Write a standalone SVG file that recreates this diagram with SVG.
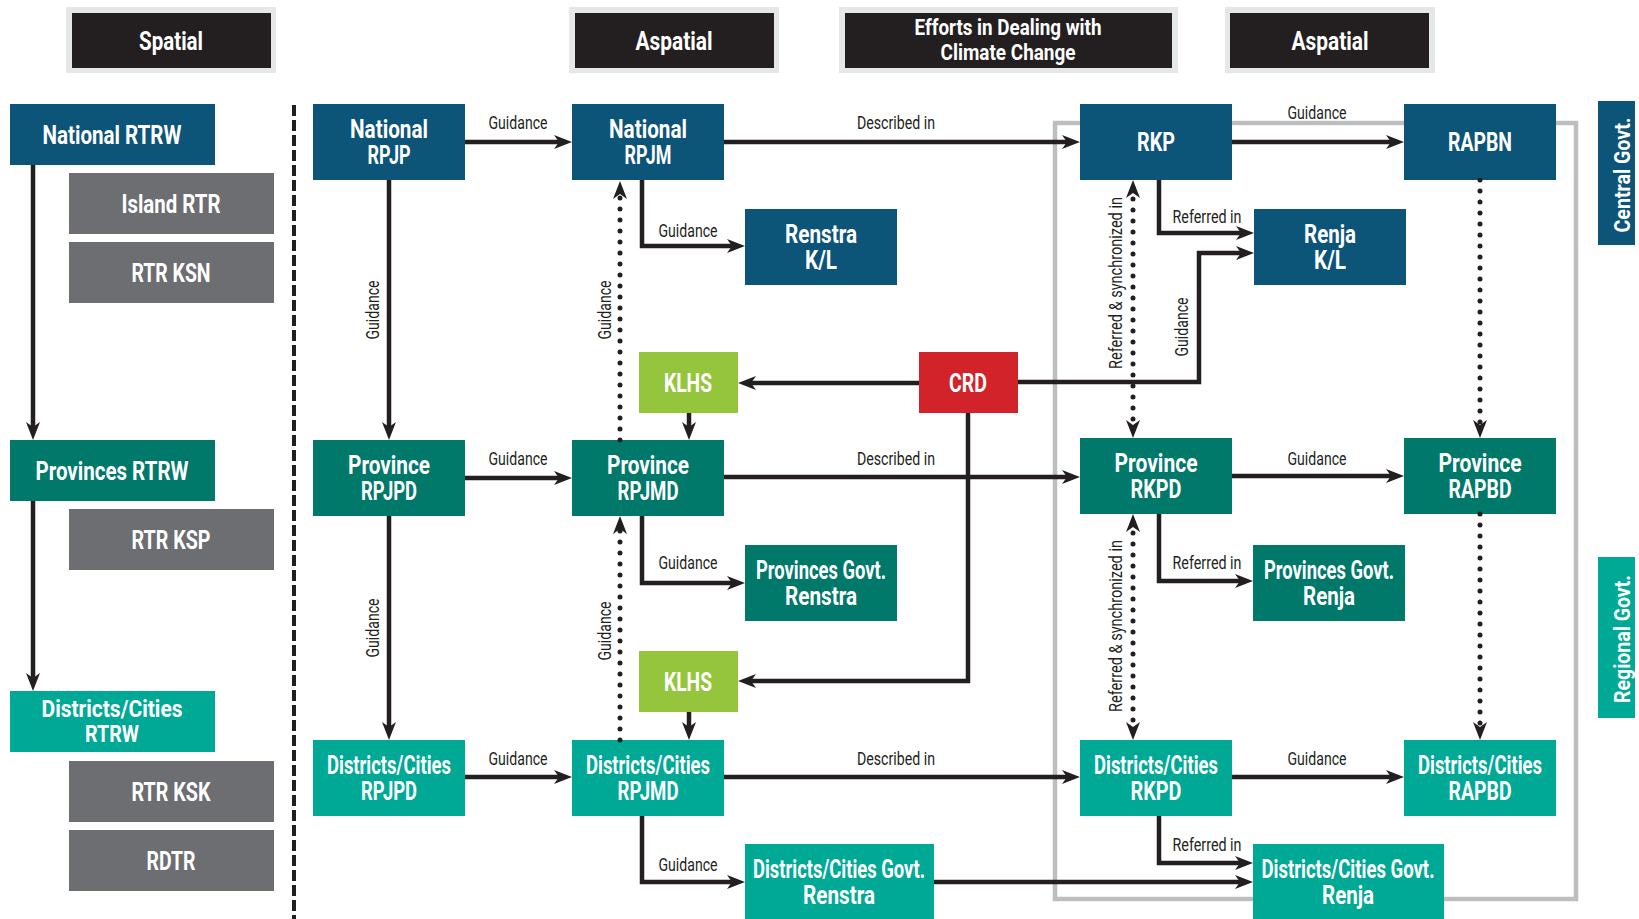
<svg xmlns="http://www.w3.org/2000/svg" width="1639" height="919" viewBox="0 0 1639 919">
<style>
.n{font-family:Roboto,"Liberation Sans",sans-serif;font-weight:bold;font-size:25px;fill:#fff;text-anchor:middle}
.n2{font-size:24px}
.h{font-family:Roboto,"Liberation Sans",sans-serif;font-weight:bold;font-size:25px;fill:#fff;text-anchor:middle}
.hs{font-size:22px}
.t{font-family:Roboto,"Liberation Sans",sans-serif;font-weight:bold;font-size:22px;fill:#fff;text-anchor:middle}
.l{font-family:Roboto,"Liberation Sans",sans-serif;font-size:18px;fill:#231f20;text-anchor:middle}
.nat{fill:#0d5479}.prv{fill:#00786a}.dis{fill:#00a995}.gry{fill:#6d6e71}.klh{fill:#95c53d}.crd{fill:#d2232a}
.hb{fill:#e6e7e8}.hk{fill:#231f20}
.c{fill:none;stroke:#231f20;stroke-width:4.5;marker-end:url(#ah)}
.d{fill:none;stroke:#231f20;stroke-width:5;stroke-linecap:round;stroke-dasharray:0 11;marker-end:url(#ah)}
.d2{marker-start:url(#ah)}
</style>
<defs>
<marker id="ah" viewBox="0 0 18 14" refX="10" refY="7" markerWidth="18" markerHeight="14" orient="auto-start-reverse" markerUnits="userSpaceOnUse"><path d="M0,0 L18,7 L0,14 L5,7 z" fill="#231f20"/></marker>
</defs>
<rect width="1639" height="919" fill="#fff"/>
<rect x="1055" y="123" width="521" height="776" fill="none" stroke="#bcbec0" stroke-width="4.5"/>
<line x1="294" y1="105" x2="294" y2="919" stroke="#231f20" stroke-width="4" stroke-dasharray="11 4"/>
<g id="hdr-spatial"><rect class="hb" x="66" y="7" width="210" height="66"/><rect class="hk" x="72" y="13" width="199" height="55"/><text class="h" x="171" y="50" textLength="64" lengthAdjust="spacingAndGlyphs">Spatial</text></g>
<g id="hdr-aspatial1"><rect class="hb" x="569" y="7" width="210" height="66"/><rect class="hk" x="575" y="13" width="199" height="55"/><text class="h" x="674" y="50" textLength="77" lengthAdjust="spacingAndGlyphs">Aspatial</text></g>
<g id="hdr-efforts"><rect class="hb" x="839" y="7" width="339" height="66"/><rect class="hk" x="845" y="13" width="327" height="55"/><text class="h hs" x="1008" y="35" textLength="187" lengthAdjust="spacingAndGlyphs">Efforts in Dealing with</text><text class="h hs" x="1008" y="60" textLength="135" lengthAdjust="spacingAndGlyphs">Climate Change</text></g>
<g id="hdr-aspatial2"><rect class="hb" x="1225" y="7" width="210" height="66"/><rect class="hk" x="1230" y="13" width="199" height="55"/><text class="h" x="1330" y="50" textLength="77" lengthAdjust="spacingAndGlyphs">Aspatial</text></g>
<g id="tab-central"><rect class="nat" x="1598" y="101" width="37" height="144"/><text class="t" transform="translate(1630,175) rotate(-90)" textLength="115" lengthAdjust="spacingAndGlyphs">Central Govt.</text></g>
<g id="tab-regional"><rect class="dis" x="1598" y="557" width="37" height="161"/><text class="t" transform="translate(1630,639) rotate(-90)" textLength="128" lengthAdjust="spacingAndGlyphs">Regional Govt.</text></g>
<g id="national-rtrw"><rect class="nat" x="10" y="104" width="205" height="61"/><text class="n" x="112" y="144" textLength="139" lengthAdjust="spacingAndGlyphs">National RTRW</text></g>
<g id="island-rtr"><rect class="gry" x="69" y="173" width="205" height="61"/><text class="n" x="171" y="213" textLength="99" lengthAdjust="spacingAndGlyphs">Island RTR</text></g>
<g id="rtr-ksn"><rect class="gry" x="69" y="242" width="205" height="61"/><text class="n" x="171" y="282" textLength="79" lengthAdjust="spacingAndGlyphs">RTR KSN</text></g>
<g id="provinces-rtrw"><rect class="prv" x="10" y="440" width="205" height="61"/><text class="n" x="112" y="480" textLength="153" lengthAdjust="spacingAndGlyphs">Provinces RTRW</text></g>
<g id="rtr-ksp"><rect class="gry" x="69" y="509" width="205" height="61"/><text class="n" x="171" y="549" textLength="79" lengthAdjust="spacingAndGlyphs">RTR KSP</text></g>
<g id="dc-rtrw"><rect class="dis" x="10" y="691" width="205" height="61"/><text class="n n2" x="112" y="717" textLength="141" lengthAdjust="spacingAndGlyphs">Districts/Cities</text><text class="n n2" x="112" y="742" textLength="54" lengthAdjust="spacingAndGlyphs">RTRW</text></g>
<g id="rtr-ksk"><rect class="gry" x="69" y="761" width="205" height="61"/><text class="n" x="171" y="801" textLength="79" lengthAdjust="spacingAndGlyphs">RTR KSK</text></g>
<g id="rdtr"><rect class="gry" x="69" y="830" width="205" height="61"/><text class="n" x="171" y="870" textLength="49" lengthAdjust="spacingAndGlyphs">RDTR</text></g>
<g id="national-rpjp"><rect class="nat" x="313" y="104" width="152" height="76"/><text class="n" x="389" y="138" textLength="78" lengthAdjust="spacingAndGlyphs">National</text><text class="n" x="389" y="164" textLength="43" lengthAdjust="spacingAndGlyphs">RPJP</text></g>
<g id="province-rpjpd"><rect class="prv" x="313" y="440" width="152" height="76"/><text class="n" x="389" y="474" textLength="82" lengthAdjust="spacingAndGlyphs">Province</text><text class="n" x="389" y="500" textLength="56" lengthAdjust="spacingAndGlyphs">RPJPD</text></g>
<g id="dc-rpjpd"><rect class="dis" x="313" y="740" width="152" height="76"/><text class="n" x="389" y="774" textLength="124" lengthAdjust="spacingAndGlyphs">Districts/Cities</text><text class="n" x="389" y="800" textLength="56" lengthAdjust="spacingAndGlyphs">RPJPD</text></g>
<g id="national-rpjm"><rect class="nat" x="572" y="104" width="152" height="76"/><text class="n" x="648" y="138" textLength="78" lengthAdjust="spacingAndGlyphs">National</text><text class="n" x="648" y="164" textLength="47" lengthAdjust="spacingAndGlyphs">RPJM</text></g>
<g id="province-rpjmd"><rect class="prv" x="572" y="440" width="152" height="76"/><text class="n" x="648" y="474" textLength="82" lengthAdjust="spacingAndGlyphs">Province</text><text class="n" x="648" y="500" textLength="61" lengthAdjust="spacingAndGlyphs">RPJMD</text></g>
<g id="dc-rpjmd"><rect class="dis" x="572" y="740" width="152" height="76"/><text class="n" x="648" y="774" textLength="124" lengthAdjust="spacingAndGlyphs">Districts/Cities</text><text class="n" x="648" y="800" textLength="61" lengthAdjust="spacingAndGlyphs">RPJMD</text></g>
<g id="klhs-1"><rect class="klh" x="639" y="352" width="99" height="61"/><text class="n" x="688" y="392" textLength="48" lengthAdjust="spacingAndGlyphs">KLHS</text></g>
<g id="klhs-2"><rect class="klh" x="639" y="651" width="99" height="61"/><text class="n" x="688" y="691" textLength="48" lengthAdjust="spacingAndGlyphs">KLHS</text></g>
<g id="renstra-kl"><rect class="nat" x="745" y="209" width="152" height="76"/><text class="n" x="821" y="243" textLength="72" lengthAdjust="spacingAndGlyphs">Renstra</text><text class="n" x="821" y="269" textLength="32" lengthAdjust="spacingAndGlyphs">K/L</text></g>
<g id="prov-renstra"><rect class="prv" x="745" y="545" width="152" height="76"/><text class="n" x="821" y="579" textLength="130" lengthAdjust="spacingAndGlyphs">Provinces Govt.</text><text class="n" x="821" y="605" textLength="72" lengthAdjust="spacingAndGlyphs">Renstra</text></g>
<g id="dc-renstra"><rect class="dis" x="745" y="844" width="189" height="76"/><text class="n" x="839" y="878" textLength="172" lengthAdjust="spacingAndGlyphs">Districts/Cities Govt.</text><text class="n" x="839" y="904" textLength="72" lengthAdjust="spacingAndGlyphs">Renstra</text></g>
<g id="crd"><rect class="crd" x="919" y="352" width="99" height="61"/><text class="n" x="968" y="392" textLength="38" lengthAdjust="spacingAndGlyphs">CRD</text></g>
<g id="rkp"><rect class="nat" x="1080" y="104" width="152" height="76"/><text class="n" x="1156" y="151" textLength="38" lengthAdjust="spacingAndGlyphs">RKP</text></g>
<g id="province-rkpd"><rect class="prv" x="1080" y="438" width="152" height="76"/><text class="n" x="1156" y="472" textLength="83" lengthAdjust="spacingAndGlyphs">Province</text><text class="n" x="1156" y="498" textLength="51" lengthAdjust="spacingAndGlyphs">RKPD</text></g>
<g id="dc-rkpd"><rect class="dis" x="1080" y="740" width="152" height="76"/><text class="n" x="1156" y="774" textLength="124" lengthAdjust="spacingAndGlyphs">Districts/Cities</text><text class="n" x="1156" y="800" textLength="51" lengthAdjust="spacingAndGlyphs">RKPD</text></g>
<g id="renja-kl"><rect class="nat" x="1254" y="209" width="152" height="76"/><text class="n" x="1330" y="243" textLength="52" lengthAdjust="spacingAndGlyphs">Renja</text><text class="n" x="1330" y="269" textLength="32" lengthAdjust="spacingAndGlyphs">K/L</text></g>
<g id="prov-renja"><rect class="prv" x="1253" y="545" width="152" height="76"/><text class="n" x="1329" y="579" textLength="130" lengthAdjust="spacingAndGlyphs">Provinces Govt.</text><text class="n" x="1329" y="605" textLength="52" lengthAdjust="spacingAndGlyphs">Renja</text></g>
<g id="dc-renja"><rect class="dis" x="1253" y="844" width="191" height="76"/><text class="n" x="1348" y="878" textLength="173" lengthAdjust="spacingAndGlyphs">Districts/Cities Govt.</text><text class="n" x="1348" y="904" textLength="52" lengthAdjust="spacingAndGlyphs">Renja</text></g>
<g id="rapbn"><rect class="nat" x="1404" y="104" width="152" height="76"/><text class="n" x="1480" y="151" textLength="64" lengthAdjust="spacingAndGlyphs">RAPBN</text></g>
<g id="province-rapbd"><rect class="prv" x="1404" y="438" width="152" height="76"/><text class="n" x="1480" y="472" textLength="83" lengthAdjust="spacingAndGlyphs">Province</text><text class="n" x="1480" y="498" textLength="63" lengthAdjust="spacingAndGlyphs">RAPBD</text></g>
<g id="dc-rapbd"><rect class="dis" x="1404" y="740" width="152" height="76"/><text class="n" x="1480" y="774" textLength="124" lengthAdjust="spacingAndGlyphs">Districts/Cities</text><text class="n" x="1480" y="800" textLength="63" lengthAdjust="spacingAndGlyphs">RAPBD</text></g>
<g id="connectors">
<path class="c" d="M33,165 V432"/>
<path class="c" d="M33,501 V683"/>
<path class="c" d="M465,142 H564"/>
<path class="c" d="M389,180 V432"/>
<path class="c" d="M389,516 V732"/>
<path class="c" d="M465,478 H564"/>
<path class="c" d="M465,777 H564"/>
<path class="c" d="M724,142 H1072"/>
<path class="c" d="M724,477 H1072"/>
<path class="c" d="M724,777 H1072"/>
<path class="c" d="M1232,142 H1396"/>
<path class="c" d="M1232,476 H1396"/>
<path class="c" d="M1232,777 H1396"/>
<path class="c" d="M642,180 V246 H737"/>
<path class="c" d="M642,516 V583 H737"/>
<path class="c" d="M642,816 V882 H737"/>
<path class="d" d="M620,440 V189"/>
<path class="d" d="M620,740 V524"/>
<path class="c" d="M919,383 H746"/>
<path class="c" d="M689,413 V432"/>
<path class="c" d="M968,413 V681 H746"/>
<path class="c" d="M689,712 V732"/>
<path class="c" d="M1018,382 H1199 V253 H1246"/>
<path class="c" d="M1159,180 V233 H1246"/>
<path class="c" d="M1159,514 V581 H1245"/>
<path class="c" d="M1159,816 V863 H1245"/>
<path class="c" d="M934,882 H1245"/>
<path class="d d2" d="M1133,188 V430"/>
<path class="d d2" d="M1133,522 V732"/>
<path class="d" d="M1480,180 V430"/>
<path class="d" d="M1480,514 V732"/>
<text class="l" x="518" y="129" textLength="59" lengthAdjust="spacingAndGlyphs">Guidance</text>
<text class="l" x="518" y="465" textLength="59" lengthAdjust="spacingAndGlyphs">Guidance</text>
<text class="l" x="518" y="765" textLength="59" lengthAdjust="spacingAndGlyphs">Guidance</text>
<text class="l" x="896" y="129" textLength="78" lengthAdjust="spacingAndGlyphs">Described in</text>
<text class="l" x="896" y="465" textLength="78" lengthAdjust="spacingAndGlyphs">Described in</text>
<text class="l" x="896" y="765" textLength="78" lengthAdjust="spacingAndGlyphs">Described in</text>
<text class="l" x="1317" y="119" textLength="59" lengthAdjust="spacingAndGlyphs">Guidance</text>
<text class="l" x="1317" y="465" textLength="59" lengthAdjust="spacingAndGlyphs">Guidance</text>
<text class="l" x="1317" y="765" textLength="59" lengthAdjust="spacingAndGlyphs">Guidance</text>
<text class="l" x="688" y="237" textLength="59" lengthAdjust="spacingAndGlyphs">Guidance</text>
<text class="l" x="688" y="569" textLength="59" lengthAdjust="spacingAndGlyphs">Guidance</text>
<text class="l" x="688" y="871" textLength="59" lengthAdjust="spacingAndGlyphs">Guidance</text>
<text class="l" x="1207" y="223" textLength="69" lengthAdjust="spacingAndGlyphs">Referred in</text>
<text class="l" x="1207" y="569" textLength="69" lengthAdjust="spacingAndGlyphs">Referred in</text>
<text class="l" x="1207" y="851" textLength="69" lengthAdjust="spacingAndGlyphs">Referred in</text>
<text class="l" transform="translate(379,310) rotate(-90)" textLength="59" lengthAdjust="spacingAndGlyphs">Guidance</text>
<text class="l" transform="translate(379,628) rotate(-90)" textLength="59" lengthAdjust="spacingAndGlyphs">Guidance</text>
<text class="l" transform="translate(611,310) rotate(-90)" textLength="59" lengthAdjust="spacingAndGlyphs">Guidance</text>
<text class="l" transform="translate(611,631) rotate(-90)" textLength="59" lengthAdjust="spacingAndGlyphs">Guidance</text>
<text class="l" transform="translate(1188,327) rotate(-90)" textLength="59" lengthAdjust="spacingAndGlyphs">Guidance</text>
<text class="l" transform="translate(1122,283) rotate(-90)" textLength="172" lengthAdjust="spacingAndGlyphs">Referred &amp; synchronized in</text>
<text class="l" transform="translate(1122,626) rotate(-90)" textLength="172" lengthAdjust="spacingAndGlyphs">Referred &amp; synchronized in</text>
</g>
</svg>
